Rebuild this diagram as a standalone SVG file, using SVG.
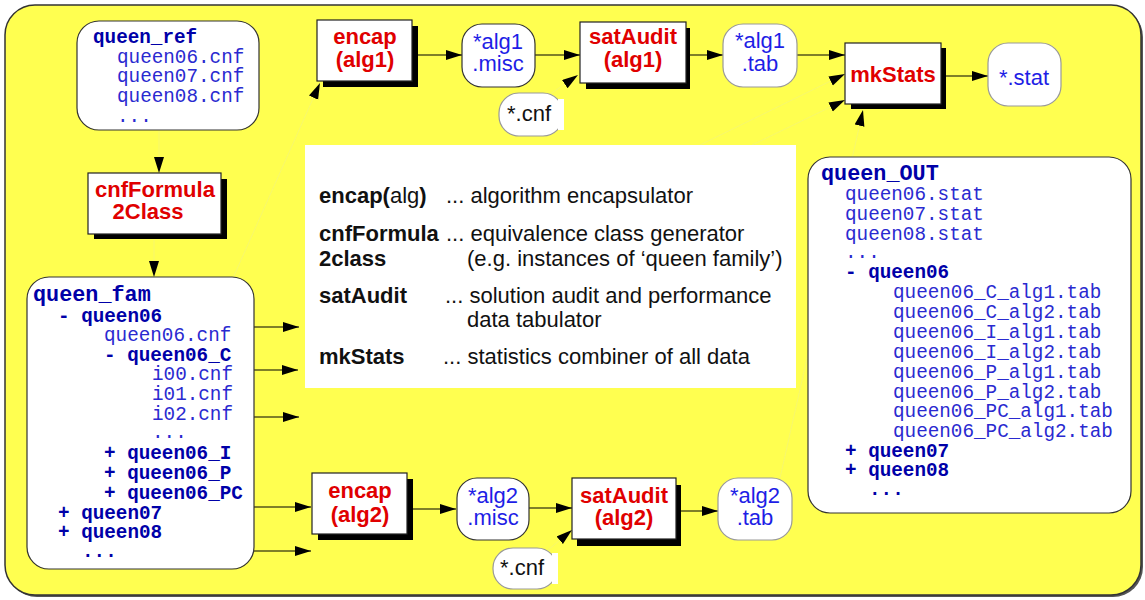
<svg xmlns="http://www.w3.org/2000/svg" width="1145" height="600" viewBox="0 0 1145 600">
<defs>
<marker id="ah" markerUnits="userSpaceOnUse" markerWidth="17" markerHeight="11" refX="16" refY="5" orient="auto">
<path d="M0,0 L16,5 L0,10 z" fill="#000"/>
</marker>
<style>
.frame{fill:#ffff50;stroke:#333;stroke-width:1.5}
.proc{fill:#fff;stroke:#222;stroke-width:1.2}
.shadow{fill:#000}
.file{fill:#fff;stroke:#333;stroke-width:1.2}
.file2{fill:#fff;stroke:#999;stroke-width:1.2}
.pt{font-family:"Liberation Sans",Arial,sans-serif;font-weight:bold;font-size:22px;fill:#e00000;text-anchor:middle}
.ft{font-family:"Liberation Sans",Arial,sans-serif;font-size:22px;fill:#1e1ee6;text-anchor:middle}
.ct{font-family:"Liberation Sans",Arial,sans-serif;font-size:22px;fill:#111;text-anchor:middle}
.mono{font-family:"Liberation Mono","Courier New",monospace;font-size:19.3px;fill:#2a2ad0}
.mb{font-weight:bold;fill:#0000a8}
.hdr{font-size:21.8px}
.leg{font-family:"Liberation Sans",Arial,sans-serif;font-size:22px;fill:#111}
.b{font-weight:bold}
.ln{stroke:#000;stroke-width:1.2;fill:none}
.fl{stroke:#f4f47a;stroke-width:0.7;fill:none}
</style>
</defs>
<g id="background">
<rect x="7" y="7" width="1136" height="590" rx="30" fill="#555"/>
<rect x="5" y="5" width="1136" height="590" rx="30" class="frame"/>
</g>
<g id="connectors">
<line class="fl" x1="159" y1="131" x2="159" y2="173" marker-end="url(#ah)"/>
<line class="fl" x1="154" y1="240" x2="154" y2="277" marker-end="url(#ah)"/>
<line class="fl" x1="233" y1="278" x2="320" y2="83" marker-end="url(#ah)"/>
<line class="fl" x1="540" y1="101" x2="578" y2="75" marker-end="url(#ah)"/>
<line class="fl" x1="548" y1="550" x2="572" y2="530" marker-end="url(#ah)"/>
<line class="fl" x1="700" y1="145" x2="845" y2="74" marker-end="url(#ah)"/>
<line class="fl" x1="752" y1="145" x2="845" y2="100" marker-end="url(#ah)"/>
<line class="fl" x1="780" y1="478" x2="863" y2="110" marker-end="url(#ah)"/>
<line class="ln" x1="412" y1="55" x2="462" y2="55" marker-end="url(#ah)"/>
<line class="ln" x1="535" y1="55" x2="580" y2="55" marker-end="url(#ah)"/>
<line class="ln" x1="687" y1="55" x2="723" y2="55" marker-end="url(#ah)"/>
<line class="ln" x1="797" y1="55" x2="845" y2="55" marker-end="url(#ah)"/>
<line class="ln" x1="941" y1="76" x2="988" y2="76" marker-end="url(#ah)"/>
<line class="ln" x1="254" y1="327" x2="299" y2="327" marker-end="url(#ah)"/>
<line class="ln" x1="254" y1="370" x2="298" y2="370" marker-end="url(#ah)"/>
<line class="ln" x1="254" y1="417" x2="299" y2="417" marker-end="url(#ah)"/>
<line class="ln" x1="254" y1="507" x2="311" y2="507" marker-end="url(#ah)"/>
<line class="ln" x1="254" y1="551" x2="311" y2="551" marker-end="url(#ah)"/>
<line class="ln" x1="407" y1="509" x2="456" y2="509" marker-end="url(#ah)"/>
<line class="ln" x1="529" y1="508" x2="572" y2="508" marker-end="url(#ah)"/>
<line class="ln" x1="676" y1="511" x2="718" y2="511" marker-end="url(#ah)"/>
</g>
<g id="legend">
<rect x="305" y="145" width="491" height="243" fill="#fff"/>
<text class="leg" x="319" y="203"><tspan class="b">encap(</tspan>alg<tspan class="b">)</tspan></text>
<text class="leg" x="446" y="203">... algorithm encapsulator</text>
<text class="leg b" x="319" y="241">cnfFormula</text>
<text class="leg" x="446" y="241">... equivalence class generator</text>
<text class="leg b" x="319" y="266">2class</text>
<text class="leg" x="467" y="266">(e.g. instances of ‘queen family’)</text>
<text class="leg b" x="319" y="303">satAudit</text>
<text class="leg" x="445" y="303">... solution audit and performance</text>
<text class="leg" x="467" y="327">data tabulator</text>
<text class="leg b" x="319" y="364">mkStats</text>
<text class="leg" x="443" y="364">... statistics combiner of all data</text>
</g>
<g id="queen_ref">
<rect x="77" y="21" width="182" height="109" rx="22" class="file"/>
<text class="mono mb" x="93" y="43">queen_ref</text>
<text class="mono" x="117" y="63">queen06.cnf</text>
<text class="mono" x="117" y="82">queen07.cnf</text>
<text class="mono" x="117" y="102">queen08.cnf</text>
<text class="mono" x="117" y="122">...</text>
</g>
<g id="cnfFormula2Class">
<rect x="94" y="179" width="133" height="60" class="shadow"/>
<rect x="88" y="173" width="133" height="61" class="proc"/>
<text class="pt" x="155" y="197">cnfFormula</text>
<text class="pt" x="148" y="219">2Class</text>
</g>
<g id="queen_fam">
<rect x="27" y="277" width="227" height="292" rx="22" class="file"/>
<text class="mono mb hdr" x="33" y="301">queen_fam</text>
<text class="mono mb" x="58" y="322">- queen06</text>
<text class="mono" x="104" y="341">queen06.cnf</text>
<text class="mono mb" x="104" y="361">- queen06_C</text>
<text class="mono" x="152" y="380">i00.cnf</text>
<text class="mono" x="152" y="400">i01.cnf</text>
<text class="mono" x="152" y="420">i02.cnf</text>
<text class="mono" x="152" y="438">...</text>
<text class="mono mb" x="104" y="459">+ queen06_I</text>
<text class="mono mb" x="104" y="479">+ queen06_P</text>
<text class="mono mb" x="104" y="499">+ queen06_PC</text>
<text class="mono mb" x="58" y="519">+ queen07</text>
<text class="mono mb" x="58" y="538">+ queen08</text>
<text class="mono mb" x="82" y="557">...</text>
</g>
<g id="encap_alg1">
<rect x="323" y="26" width="95" height="61" class="shadow"/>
<rect x="317" y="20" width="95" height="61" class="proc"/>
<text class="pt" x="365" y="44">encap</text>
<text class="pt" x="365" y="67">(alg1)</text>
</g>
<g id="alg1_misc">
<rect x="462" y="24" width="73" height="63" rx="20" class="file"/>
<text class="ft" x="498" y="49">*alg1</text>
<text class="ft" x="498" y="71">.misc</text>
</g>
<g id="cnf1">
<rect x="499" y="93" width="64" height="43" rx="20" class="file2"/>
<rect x="558" y="99" width="6" height="31" fill="#fff"/>
<text class="ct" x="529" y="121">*.cnf</text>
</g>
<g id="satAudit_alg1">
<rect x="586" y="28" width="104" height="61" class="shadow"/>
<rect x="580" y="22" width="106" height="61" class="proc"/>
<text class="pt" x="633" y="44">satAudit</text>
<text class="pt" x="633" y="67">(alg1)</text>
</g>
<g id="alg1_tab">
<rect x="723" y="24" width="74" height="63" rx="20" class="file2"/>
<text class="ft" x="760" y="48">*alg1</text>
<text class="ft" x="760" y="71">.tab</text>
</g>
<g id="mkStats">
<rect x="851" y="48" width="95" height="61" class="shadow"/>
<rect x="845" y="43" width="96" height="61" class="proc"/>
<text class="pt" x="893" y="82">mkStats</text>
</g>
<g id="stat">
<rect x="988" y="43" width="73" height="63" rx="20" class="file2"/>
<text class="ft" x="1024" y="85">*.stat</text>
</g>
<g id="queen_OUT">
<rect x="808" y="157" width="323" height="356" rx="22" class="file"/>
<text class="mono mb hdr" x="821" y="180">queen_OUT</text>
<text class="mono" x="845" y="200">queen06.stat</text>
<text class="mono" x="845" y="220">queen07.stat</text>
<text class="mono" x="845" y="240">queen08.stat</text>
<text class="mono" x="845" y="258">...</text>
<text class="mono mb" x="845" y="278">- queen06</text>
<text class="mono" x="893" y="298">queen06_C_alg1.tab</text>
<text class="mono" x="893" y="318">queen06_C_alg2.tab</text>
<text class="mono" x="893" y="338">queen06_I_alg1.tab</text>
<text class="mono" x="893" y="358">queen06_I_alg2.tab</text>
<text class="mono" x="893" y="378">queen06_P_alg1.tab</text>
<text class="mono" x="893" y="398">queen06_P_alg2.tab</text>
<text class="mono" x="893" y="417">queen06_PC_alg1.tab</text>
<text class="mono" x="893" y="437">queen06_PC_alg2.tab</text>
<text class="mono mb" x="845" y="457">+ queen07</text>
<text class="mono mb" x="845" y="476">+ queen08</text>
<text class="mono mb" x="869" y="495">...</text>
</g>
<g id="encap_alg2">
<rect x="318" y="479" width="95" height="61" class="shadow"/>
<rect x="312" y="473" width="95" height="61" class="proc"/>
<text class="pt" x="360" y="498">encap</text>
<text class="pt" x="360" y="522">(alg2)</text>
</g>
<g id="alg2_misc">
<rect x="457" y="478" width="72" height="62" rx="20" class="file"/>
<text class="ft" x="493" y="503">*alg2</text>
<text class="ft" x="493" y="525">.misc</text>
</g>
<g id="cnf2">
<rect x="493" y="548" width="64" height="41" rx="20" class="file2"/>
<rect x="552" y="553" width="6" height="31" fill="#fff"/>
<text class="ct" x="522" y="575">*.cnf</text>
</g>
<g id="satAudit_alg2">
<rect x="577" y="485" width="104" height="61" class="shadow"/>
<rect x="572" y="478" width="104" height="61" class="proc"/>
<text class="pt" x="624" y="503">satAudit</text>
<text class="pt" x="624" y="525">(alg2)</text>
</g>
<g id="alg2_tab">
<rect x="718" y="478" width="74" height="62" rx="20" class="file2"/>
<text class="ft" x="755" y="503">*alg2</text>
<text class="ft" x="755" y="525">.tab</text>
</g>
</svg>
